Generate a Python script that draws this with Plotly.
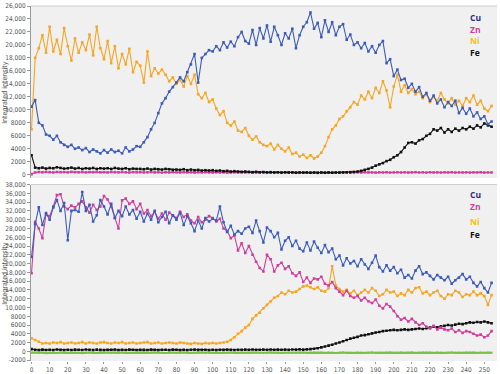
import plotly.graph_objects as go
from plotly.subplots import make_subplots

# x positions (every 2 units)
x_vals = list(range(0, 256, 2))

# ---- top panel ----
top_cu = [10500, 11500, 8000, 7600, 6200, 6000, 5400, 6000, 5000, 4600,
          4300, 4600, 4000, 4200, 3800, 4100, 3500, 3900, 3600, 3300,
          3800, 3400, 3900, 3500, 3700, 3300, 4200, 3600, 3900, 4400,
          4300, 5000, 5800, 7000, 8000, 9500, 11000, 11800, 12800, 13500,
          14200, 15000, 14400, 15800, 17000, 18600, 14200, 18000, 18600, 19200,
          19000, 19800, 19200, 20400, 19600, 20500, 19800, 21200, 22000, 20600,
          20200, 22300, 20000, 22600, 21000, 23000, 20500, 22800, 21500, 20000,
          21800, 21000, 22500, 19500, 21500, 22800, 23500, 25000, 22500, 23400,
          21200, 23800, 22000, 23500, 21500, 22800, 23200, 20800, 21600, 20000,
          20400, 19500, 20300, 19000, 19800, 18800, 20000, 20600, 17200, 17800,
          15200, 16200, 14600, 14800, 13400, 14000, 12800, 13500, 12000, 12600,
          11400, 12200, 11000, 11600, 10400, 11200, 10600, 11400, 9500, 10300,
          9400, 10200, 9000, 9600, 8600, 9000, 7800, 8200]
top_zn = [100, 350, 420, 380, 450, 400, 360, 430, 390, 410,
          370, 440, 400, 380, 420, 360, 410, 390, 430, 380,
          400, 360, 420, 390, 370, 410, 380, 350, 400, 370,
          390, 350, 380, 410, 360, 390, 340, 380, 360, 400,
          370, 340, 390, 360, 380, 330, 370, 350, 390, 360,
          340, 380, 350, 370, 330, 360, 380, 340, 370, 350,
          380, 340, 360, 390, 350, 370, 330, 360, 380, 340,
          360, 390, 350, 370, 340, 380, 360, 330, 370, 350,
          380, 350, 370, 340, 360, 390, 350, 370, 340, 360,
          370, 340, 380, 350, 360, 330, 370, 350, 380, 340,
          360, 380, 350, 370, 340, 360, 390, 350, 370, 340,
          380, 350, 360, 340, 370, 350, 380, 340, 360, 350,
          370, 340, 360, 350, 380, 340, 360, 350]
top_ni = [7000, 18000, 19500, 21500, 18800, 22800, 19000, 20800, 18600, 22600,
          19800, 17600, 21000, 18800, 20400, 19200, 21600, 18400, 22800, 19500,
          17800, 20600, 17200, 19800, 16400, 18600, 17000, 19400, 15800, 17400,
          16800, 14200, 19000, 15200, 16400, 15600, 16200, 15400, 14400, 15000,
          14000, 14600, 13600, 15200, 14000, 15400, 12400, 11800, 12600, 11200,
          11600, 10200, 9200, 9800, 8000, 7600, 8200, 6800, 6600, 7200,
          6000, 5400, 5900, 5000, 4600, 4400, 4800, 3900, 4600, 4000,
          3600, 4200, 3200, 3400, 2800, 3100, 2600, 3000, 2500, 2800,
          3400, 4400, 5800, 7000, 7600, 8600, 9000, 9800, 10400, 11200,
          10800, 12200, 11600, 12800, 11800, 13400, 12600, 14400, 13000, 10400,
          13600, 15400, 12800, 13800, 12600, 13200, 12400, 12800, 11800, 12400,
          11200, 12000, 11400, 12600, 11600, 11000, 11800, 10800, 11400, 10600,
          11800, 11200, 12200, 10800, 11400, 10200, 9800, 10600]
top_fe = [3000, 1100, 1000, 1100, 950, 1050, 1000, 1150, 1050, 950,
          1000, 1100, 950, 1050, 900, 1000, 950, 1050, 900, 1000,
          950, 1000, 900, 1050, 950, 900, 1000, 850, 950, 900,
          900, 850, 950, 800, 900, 850, 800, 900, 850, 750,
          800, 750, 850, 700, 800, 700, 750, 650, 700, 650,
          700, 600, 650, 550, 600, 500, 550, 500, 450, 500,
          450, 400, 450, 380, 420, 360, 400, 350, 380, 340,
          380, 340, 360, 320, 360, 330, 350, 320, 340, 300,
          340, 310, 350, 320, 340, 330, 360, 380, 400, 440,
          500, 600, 750, 900, 1100, 1400, 1600, 1800, 2100, 2300,
          2700, 3000, 3500, 4200, 4900, 5000, 4800, 5300, 5500, 6000,
          6300, 7000, 6800, 7200, 6500, 7000, 6600, 7100, 6800, 7200,
          7000, 7400, 7100, 7600, 7300, 7900, 7600, 7400]

# ---- bottom panel ----
bot_cu = [21500, 29000, 32800, 28800, 31500, 30000, 32800, 34500, 32000, 33800,
          25300, 32000, 32200, 31800, 36300, 32000, 33400, 29600, 31000, 34500,
          33000, 31200, 33600, 30400, 32000, 30800, 33000, 31200, 32200, 30200,
          31800, 29600, 31400, 30000, 32000, 29400, 30600, 31800, 29200, 31000,
          30000, 31600, 28800, 30800, 29200, 27400, 29800, 28000, 30400, 29600,
          30200, 29800, 33000, 29400, 27200, 28600, 26600, 27400, 26800, 28000,
          28400, 27000, 29800, 27400, 24800, 28200, 27400, 26000, 27000, 23200,
          25200, 26000, 24000, 25200, 23400, 22800, 24800, 23000, 25000, 23600,
          22400, 24200, 22600, 23400, 21000, 21800, 19600, 21200, 20000, 20600,
          19400, 21000, 19800, 18800, 20200, 21800, 19200, 18200, 19600, 18400,
          19200, 17800, 18600, 16800, 17400, 16600, 18400, 19400, 17600, 18000,
          17200, 16400, 17400, 16800, 16200, 17000, 15400, 16200, 16800, 17600,
          16400, 17000, 15600, 14800, 15800, 14400, 13400, 15600]
bot_zn = [17800, 29500, 28000, 25800, 31200, 30800, 33000, 35600, 35800, 33000,
          32400, 33200, 32800, 33600, 34200, 32800, 31600, 33400, 32200, 33000,
          35400, 34600, 33000, 30400, 28000, 34400, 34800, 33600, 34200, 32400,
          33600, 31400, 32200, 30800, 31800, 30200, 31400, 30000, 31600, 31000,
          30400, 31800, 30600, 31200, 29800, 29200, 30600, 29400, 30000, 30800,
          30400, 29600, 30200, 28000, 27400, 25800, 26400, 23000, 24600, 22400,
          24000, 22000, 20400, 19000, 18200, 22000, 21000, 18200, 19600, 20200,
          18800, 19400, 17800, 17200, 18000, 15800, 16800, 15600, 16600, 16400,
          17000, 15400, 15000, 15800, 14400, 13600, 12800, 13800, 12600, 12200,
          12600, 11600, 12200, 11400, 11000, 11800, 10400, 9800, 10800, 10200,
          9200, 8000, 7200, 7600, 6800, 7400, 6600, 6000, 6400, 5600,
          5200, 5800, 5000, 5400, 5000, 4800, 5200, 4400, 4800, 4200,
          4600, 4400, 4000, 3600, 3800, 3200, 3600, 4600]
bot_ni = [3000, 2600, 2200, 1800, 1900, 1800, 2000, 1900, 2100, 1800,
          1900, 2000, 1800, 1900, 2100, 1800, 2000, 1900, 1800, 2000,
          2100, 1900, 1800, 2000, 1900, 2100, 1800, 1900, 2000, 1800,
          1900, 2000, 2100, 1800, 1900, 2000, 1800, 1900, 2000, 1900,
          1800, 2000, 1900, 1800, 1700, 1900, 1800, 1700, 1900, 1800,
          1900, 1800, 1900, 2000, 2200, 2600, 3200, 4000, 4600, 5400,
          6000, 7400, 8200, 8800, 9800, 10600, 11400, 12200, 12600, 13400,
          13000, 13800, 13400, 13600, 14200, 14800, 15000, 14600, 14200, 14600,
          13800, 13600, 14400, 19400, 15000, 14200, 13600, 14000, 13200, 13800,
          12800, 13400, 14000, 13400, 14400, 13800, 12600, 13000, 14000, 13400,
          13600, 12600, 13200, 12800, 14000, 13400, 14400, 14600, 13200, 13600,
          12800, 13400, 13800, 12600, 12000, 13000, 12800, 13800, 13400, 12400,
          13000, 12800, 13600, 12800, 13200, 12600, 10600, 12800]
bot_fe = [500, 350, 300, 400, 320, 380, 300, 420, 350, 300,
          380, 320, 400, 350, 300, 420, 360, 320, 400, 340,
          300, 380, 350, 420, 320, 360, 300, 400, 350, 320,
          380, 340, 300, 400, 360, 320, 380, 350, 300, 400,
          350, 320, 380, 300, 360, 400, 330, 350, 380, 320,
          360, 300, 380, 340, 400, 350, 320, 380, 350, 400,
          360, 420, 380, 350, 400, 370, 420, 380, 400, 360,
          400, 380, 420, 400, 450, 400, 450, 500, 600, 700,
          900, 1100, 1300, 1500, 1800, 2000, 2300, 2600, 2900, 3100,
          3300, 3600, 3700, 3900, 4100, 4300, 4400, 4600, 4700, 4800,
          4900, 4800, 4900, 5000, 4900, 5000, 5100, 5200, 5100, 5300,
          5400, 5600, 5500, 5700, 5800, 6000, 5900, 6100, 6300, 6200,
          6400, 6600, 6500, 6700, 6600, 6800, 6600, 6400]
bot_green = [-300, -250, -350, -300, -400, -280, -320, -380, -260, -340,
             -300, -360, -280, -320, -400, -300, -260, -340, -380, -300,
             -320, -280, -360, -300, -340, -260, -380, -320, -300, -350,
             -280, -330, -370, -300, -260, -340, -300, -380, -320, -280,
             -350, -300, -260, -340, -380, -300, -320, -280, -360, -300,
             -340, -280, -320, -380, -300, -260, -350, -320, -290, -360,
             -300, -340, -280, -320, -380, -300, -260, -340, -300, -370,
             -320, -280, -350, -300, -330, -270, -360, -310, -290, -340,
             -300, -360, -280, -320, -380, -300, -270, -340, -310, -360,
             -290, -330, -370, -300, -260, -340, -300, -380, -320, -280,
             -340, -300, -270, -350, -310, -290, -360, -320, -280, -340,
             -300, -360, -290, -320, -370, -300, -270, -340, -310, -350,
             -290, -330, -300, -360, -280, -320, -300, -340]

top_yticks = list(range(0, 26001, 2000))
top_ylabels = ["0", "2000", "4000", "6000", "8000", "10,000", "12,000", "14,000",
               "16,000", "18,000", "20,000", "22,000", "24,000", "26,000"]
bot_yticks = list(range(-2000, 38001, 2000))
bot_ylabels = ["-2000", "0", "2000", "4000", "6000", "8000", "10,000", "12,000",
               "14,000", "16,000", "18,000", "20,000", "22,000", "24,000", "26,000",
               "28,000", "30,000", "32,000", "34,000", "36,000", "38,000"]
x_ticks = list(range(0, 251, 10))

legend_names = ["Cu", "Zn", "Ni", "Fe"]
legend_colors = ["#2d2c7c", "#cc3f98", "#f2c20e", "#111111"]

C_CU = "#3c5cb8"
C_ZN = "#cf3f9a"
C_NI = "#f6a623"
C_FE = "#111111"
C_GR = "#7dc143"

fig = make_subplots(rows=2, cols=1, shared_xaxes=True, vertical_spacing=0.018)

def add(vals, color, row, width=1.1, msize=2.6):
    fig.add_trace(go.Scatter(
        x=x_vals[:len(vals)], y=vals, mode="lines+markers",
        line=dict(color=color, width=width),
        marker=dict(symbol="square", size=msize, color=color),
        showlegend=False, hoverinfo="skip"), row=row, col=1)

# top
add(top_zn, C_ZN, 1)
add(top_fe, C_FE, 1)
add(top_ni, C_NI, 1)
add(top_cu, C_CU, 1)
# bottom
add(bot_green, C_GR, 2, width=2.2, msize=2)
add(bot_fe, C_FE, 2)
add(bot_ni, C_NI, 2)
add(bot_zn, C_ZN, 2)
add(bot_cu, C_CU, 2)

FONT = "Liberation Sans Narrow, DejaVu Sans Condensed, Arial Narrow, sans-serif"
tickfont = dict(family=FONT, size=6.5, color="#555555")

fig.update_layout(
    width=500, height=374,
    margin=dict(l=31, r=3, t=6, b=13, autoexpand=False),
    paper_bgcolor="white",
    plot_bgcolor="#f0f0f0",
    showlegend=False,
)

fig.update_xaxes(range=[-0.3, 257], showgrid=False, zeroline=False, automargin=False,
                 tickvals=x_ticks, ticks="outside", ticklen=2, tickcolor="#999999",
                 tickfont=tickfont, showline=False)
fig.update_xaxes(showticklabels=False, ticks="", row=1, col=1)

fig.update_yaxes(showgrid=False, zeroline=False, ticks="outside", ticklen=3,
                 tickcolor="#999999", showline=True, linecolor="#999999", linewidth=1,
                 tickfont=tickfont, automargin=False)
fig.update_yaxes(range=[-500, 26000], tickvals=top_yticks, ticktext=top_ylabels,
                 domain=[0.5155, 1.0], row=1, col=1)
fig.update_yaxes(range=[-2200, 38000], tickvals=bot_yticks, ticktext=bot_ylabels,
                 domain=[0.0, 0.497], row=2, col=1)

# top border lines of each panel
for yd in (1.0, 0.497):
    fig.add_shape(type="line", xref="paper", yref="paper", x0=0, x1=1, y0=yd, y1=yd,
                  line=dict(color="#cccccc", width=1))

# y axis titles
for yc in (0.758, 0.248):
    fig.add_annotation(text="Integrated intensity", xref="paper", yref="paper",
                       x=-0.056, y=yc, textangle=-90, showarrow=False,
                       xanchor="center", yanchor="middle",
                       font=dict(family=FONT, size=7, color="#555555"))

# legend labels
top_pos = [0.969, 0.935, 0.904, 0.870]
bot_pos = [0.468, 0.436, 0.392, 0.355]
for name, col, yt, yb in zip(legend_names, legend_colors, top_pos, bot_pos):
    for yy in (yt, yb):
        fig.add_annotation(text="<b>%s</b>" % name, xref="paper", yref="paper",
                           x=0.938, y=yy, showarrow=False, xanchor="left",
                           yanchor="middle",
                           font=dict(family="Open Sans, sans-serif", size=8.5, color=col))

fig.write_html("out.html", config={"displayModeBar": False},
               post_script="document.body.style.margin='0px';")
